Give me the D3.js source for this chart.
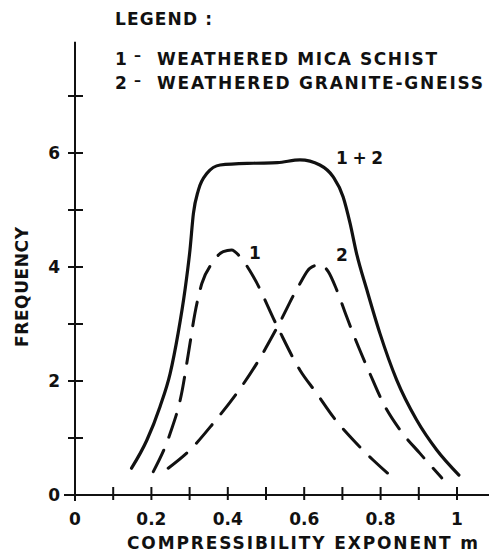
<!DOCTYPE html>
<html>
<head>
<meta charset="utf-8">
<script src="https://cdn.jsdelivr.net/npm/d3@7"></script>
<style>
  body { margin: 0; background: #fff; }
  text { font-family: "DejaVu Sans", sans-serif; font-weight: bold; fill: #111; }
</style>
</head>
<body>
<div id="chart"></div>
<script>
// Data
let xTicks = [0, 0.1, 0.2, 0.3, 0.4, 0.5, 0.6, 0.7, 0.8, 0.9, 1];
let xTickLabels = ["0", "", "0.2", "", "0.4", "", "0.6", "", "0.8", "", "1"];
let yTicks = [0, 1, 2, 3, 4, 5, 6, 7];
let yTickLabels = ["0", "", "2", "", "4", "", "6", ""];

let combined = [
  [0.148, 0.47], [0.188, 0.96], [0.2225, 1.55], [0.249, 2.13], [0.27, 2.84],
  [0.288, 3.6], [0.301, 4.3], [0.31, 4.94], [0.323, 5.35], [0.345, 5.64],
  [0.38, 5.79], [0.467, 5.82], [0.53, 5.83], [0.589, 5.88], [0.641, 5.79],
  [0.676, 5.58], [0.702, 5.23], [0.72, 4.77], [0.737, 4.24], [0.764, 3.6],
  [0.798, 2.84], [0.842, 2.02], [0.894, 1.32], [0.947, 0.79], [1.005, 0.35]
];
let micaSchist = [
  [0.205, 0.41], [0.249, 1.08], [0.279, 1.78], [0.297, 2.49], [0.314, 3.19],
  [0.332, 3.71], [0.358, 4.06], [0.388, 4.27], [0.41, 4.3], [0.432, 4.18],
  [0.467, 3.83], [0.53, 2.95], [0.589, 2.19], [0.633, 1.78], [0.676, 1.37],
  [0.729, 0.96], [0.781, 0.61], [0.838, 0.27]
];
let graniteGneiss = [
  [0.244, 0.47], [0.301, 0.79], [0.362, 1.26], [0.423, 1.78], [0.476, 2.31],
  [0.53, 2.95], [0.589, 3.71], [0.615, 3.98], [0.641, 4.04], [0.663, 3.92],
  [0.685, 3.6], [0.711, 3.13], [0.742, 2.6], [0.772, 2.13], [0.807, 1.61],
  [0.851, 1.14], [0.903, 0.73], [0.96, 0.3]
];
let legendKeys = ["1", "2"];
let legendNames = ["WEATHERED MICA SCHIST", "WEATHERED GRANITE-GNEISS"];
let legendEnds = [437, 483];

// Dimensions
let width = 489, height = 554;
let xScale = d3.scaleLinear().domain([0, 1]).range([75, 457]);
let yScale = d3.scaleLinear().domain([0, 6]).range([495, 153]);

let svg = d3.select("#chart").append("svg")
  .attr("width", width).attr("height", height);

let line = d3.line()
  .x((d) => xScale(d[0]))
  .y((d) => yScale(d[1]))
  .curve(d3.curveMonotoneX);

// Axes
svg.append("line")
  .attr("x1", 64).attr("x2", 489)
  .attr("y1", yScale(0)).attr("y2", yScale(0))
  .attr("stroke", "#111").attr("stroke-width", 2);
svg.append("line")
  .attr("x1", xScale(0)).attr("x2", xScale(0))
  .attr("y1", yScale(0) + 6).attr("y2", yScale(7.95))
  .attr("stroke", "#111").attr("stroke-width", 2);

svg.append("g").selectAll("line")
  .data(xTicks.slice(1))
  .join("line")
  .attr("x1", (d) => xScale(d)).attr("x2", (d) => xScale(d))
  .attr("y1", yScale(0) - 8).attr("y2", yScale(0) + 5)
  .attr("stroke", "#111").attr("stroke-width", 2);

svg.append("g").selectAll("line")
  .data(yTicks.slice(1))
  .join("line")
  .attr("x1", xScale(0) - 7).attr("x2", xScale(0) + 8)
  .attr("y1", (d) => yScale(d)).attr("y2", (d) => yScale(d))
  .attr("stroke", "#111").attr("stroke-width", 2);

svg.append("g").selectAll("text")
  .data(xTicks)
  .join("text")
  .attr("x", (d) => xScale(d))
  .attr("y", 525)
  .attr("text-anchor", "middle")
  .attr("font-size", 17)
  .text((d, i) => xTickLabels[i]);

svg.append("g").selectAll("text")
  .data(yTicks)
  .join("text")
  .attr("x", 60)
  .attr("y", (d) => yScale(d))
  .attr("dy", "0.36em")
  .attr("text-anchor", "end")
  .attr("font-size", 17)
  .text((d, i) => yTickLabels[i]);

// Axis titles
svg.append("text")
  .attr("x", 127).attr("y", 549)
  .attr("font-size", 17)
  .attr("textLength", 478 - 127)
  .attr("lengthAdjust", "spacing")
  .text("COMPRESSIBILITY  EXPONENT  m");

svg.append("text")
  .attr("transform", `translate(28,347) rotate(-90)`)
  .attr("font-size", 17)
  .attr("textLength", 347 - 227)
  .attr("lengthAdjust", "spacing")
  .text("FREQUENCY");

// Legend
svg.append("text")
  .attr("x", 115).attr("y", 24.5)
  .attr("font-size", 17)
  .attr("textLength", 212 - 115)
  .attr("lengthAdjust", "spacing")
  .text("LEGEND :");

let legendText = svg.append("g").selectAll("text")
  .data(legendNames)
  .join("text")
  .attr("x", 115)
  .attr("y", (d, i) => 64.5 + i * 24.5)
  .attr("font-size", 17);

legendText.append("tspan").text((d, i) => legendKeys[i]);
legendText.append("tspan")
  .attr("x", 134).attr("dy", -4.5)
  .attr("font-size", 14)
  .text("\u2013");
legendText.append("tspan")
  .attr("x", 157).attr("dy", 4.5)
  .attr("textLength", (d, i) => legendEnds[i] - 157)
  .attr("lengthAdjust", "spacing")
  .text((d) => d);

// Curves
svg.append("path")
  .datum(combined)
  .attr("d", line)
  .attr("fill", "none").attr("stroke", "#111")
  .attr("stroke-width", 3.2).attr("stroke-linecap", "round");

svg.append("path")
  .datum(micaSchist)
  .attr("d", line)
  .attr("fill", "none").attr("stroke", "#111")
  .attr("stroke-width", 3).attr("stroke-linecap", "round")
  .attr("stroke-dasharray", "24 14");

svg.append("path")
  .datum(graniteGneiss)
  .attr("d", line)
  .attr("fill", "none").attr("stroke", "#111")
  .attr("stroke-width", 3).attr("stroke-linecap", "round")
  .attr("stroke-dasharray", "24 14");

// Curve labels
svg.append("text").attr("x", 336).attr("y", 164)
  .attr("font-size", 17).attr("textLength", 47).attr("lengthAdjust", "spacing")
  .text("1 + 2");
svg.append("text").attr("x", 249).attr("y", 259)
  .attr("font-size", 17).text("1");
svg.append("text").attr("x", 336).attr("y", 261)
  .attr("font-size", 17).text("2");
</script>
</body>
</html>
